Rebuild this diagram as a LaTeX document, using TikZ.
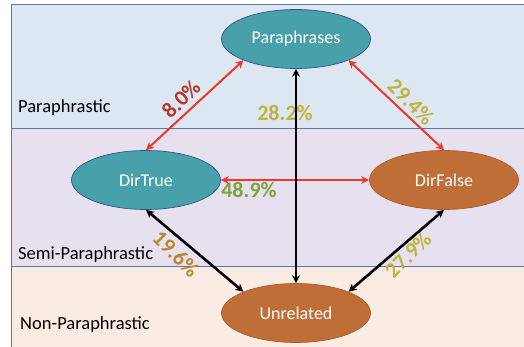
\documentclass[tikz,border=0pt]{standalone}
\usepackage{fontspec}
\setmainfont{Carlito}
\usetikzlibrary{shapes.geometric,arrows.meta}
\definecolor{bandblue}{RGB}{221,231,242}
\definecolor{bandlilac}{RGB}{231,224,238}
\definecolor{bandpeach}{RGB}{250,236,226}
\definecolor{bandline}{RGB}{95,118,168}
\definecolor{tealfill}{RGB}{72,160,170}
\definecolor{tealline}{RGB}{50,85,140}
\definecolor{rustfill}{RGB}{192,110,56}
\definecolor{rustline}{RGB}{170,95,50}
\definecolor{arrowred}{RGB}{238,55,38}
\definecolor{pctred}{RGB}{178,58,42}
\definecolor{pctolive}{RGB}{192,181,60}
\definecolor{pctgreen}{RGB}{126,163,58}
\definecolor{pctgold}{RGB}{184,135,48}

\begin{document}
\begin{tikzpicture}[x=1pt,y=-1pt,
    state/.style={ellipse,minimum width=149pt,minimum height=59pt,inner sep=0pt,
      line width=0.7pt,text=white,font=\fontsize{18}{18}\selectfont},
    teal/.style={state,fill=tealfill,draw=tealline},
    rust/.style={state,fill=rustfill,draw=rustline},
    band/.style={anchor=west,inner sep=0pt,font=\fontsize{18.5}{18.5}\selectfont},
    pct/.style={inner sep=0pt,font=\bfseries\fontsize{22}{22}\selectfont},
    link/.style={{Stealth[length=8pt,width=8pt]}-{Stealth[length=8pt,width=8pt]}},
    redlink/.style={link,arrowred,line width=2pt},
    blacklink/.style={link,black,line width=2.6pt}]
    \useasboundingbox (0,0) rectangle (524,347);
    % background bands
    \draw[bandline,line width=1pt,fill=bandblue] (11,5) rectangle (530,129);
    \draw[bandline,line width=1pt,fill=bandlilac] (11,129) rectangle (530,266);
    \draw[bandline,line width=1pt,fill=bandpeach] (11,266) rectangle (530,352);
    \node[band] (paraband) at (18,108) {Paraphrastic};
    \node[band] (semiband) at (18,255) {Semi-Paraphrastic};
    \node[band] (nonband) at (20,325) {Non-Paraphrastic};
    % states
    \node[teal] (para) at (296,39) {Paraphrases};
    \node[teal] (dirtrue) at (146,180) {DirTrue};
    \node[rust] (dirfalse) at (444,180) {DirFalse};
    \node[rust] (unrel) at (296,313) {Unrelated};
    % percentages
    \node[pct,pctred,rotate=45] (ptrue) at (181,99) {8.0\%};
    \node[pct,pctolive] (punrel) at (285,113) {28.2\%};
    \node[pct,pctolive,rotate=-45] (pfalse) at (411,102) {29.4\%};
    \node[pct,pctgreen] (pdir) at (249,190) {48.9\%};
    \node[pct,pctgold,rotate=-45] (tunrel) at (176,254) {19.6\%};
    \node[pct,pctolive,rotate=45] (funrel) at (408,255) {27.9\%};
    % links
    \draw[redlink] (dirtrue.north) -- (para.202);
    \draw[redlink] (para.338) -- (dirfalse.north);
    \draw[redlink] (dirtrue.east) -- (dirfalse.west);
    \draw[blacklink] (para.south) -- (unrel.north);
    \draw[blacklink] (dirtrue.south) -- (unrel.158);
    \draw[blacklink] (dirfalse.south) -- (unrel.22);
\end{tikzpicture}
\end{document}
